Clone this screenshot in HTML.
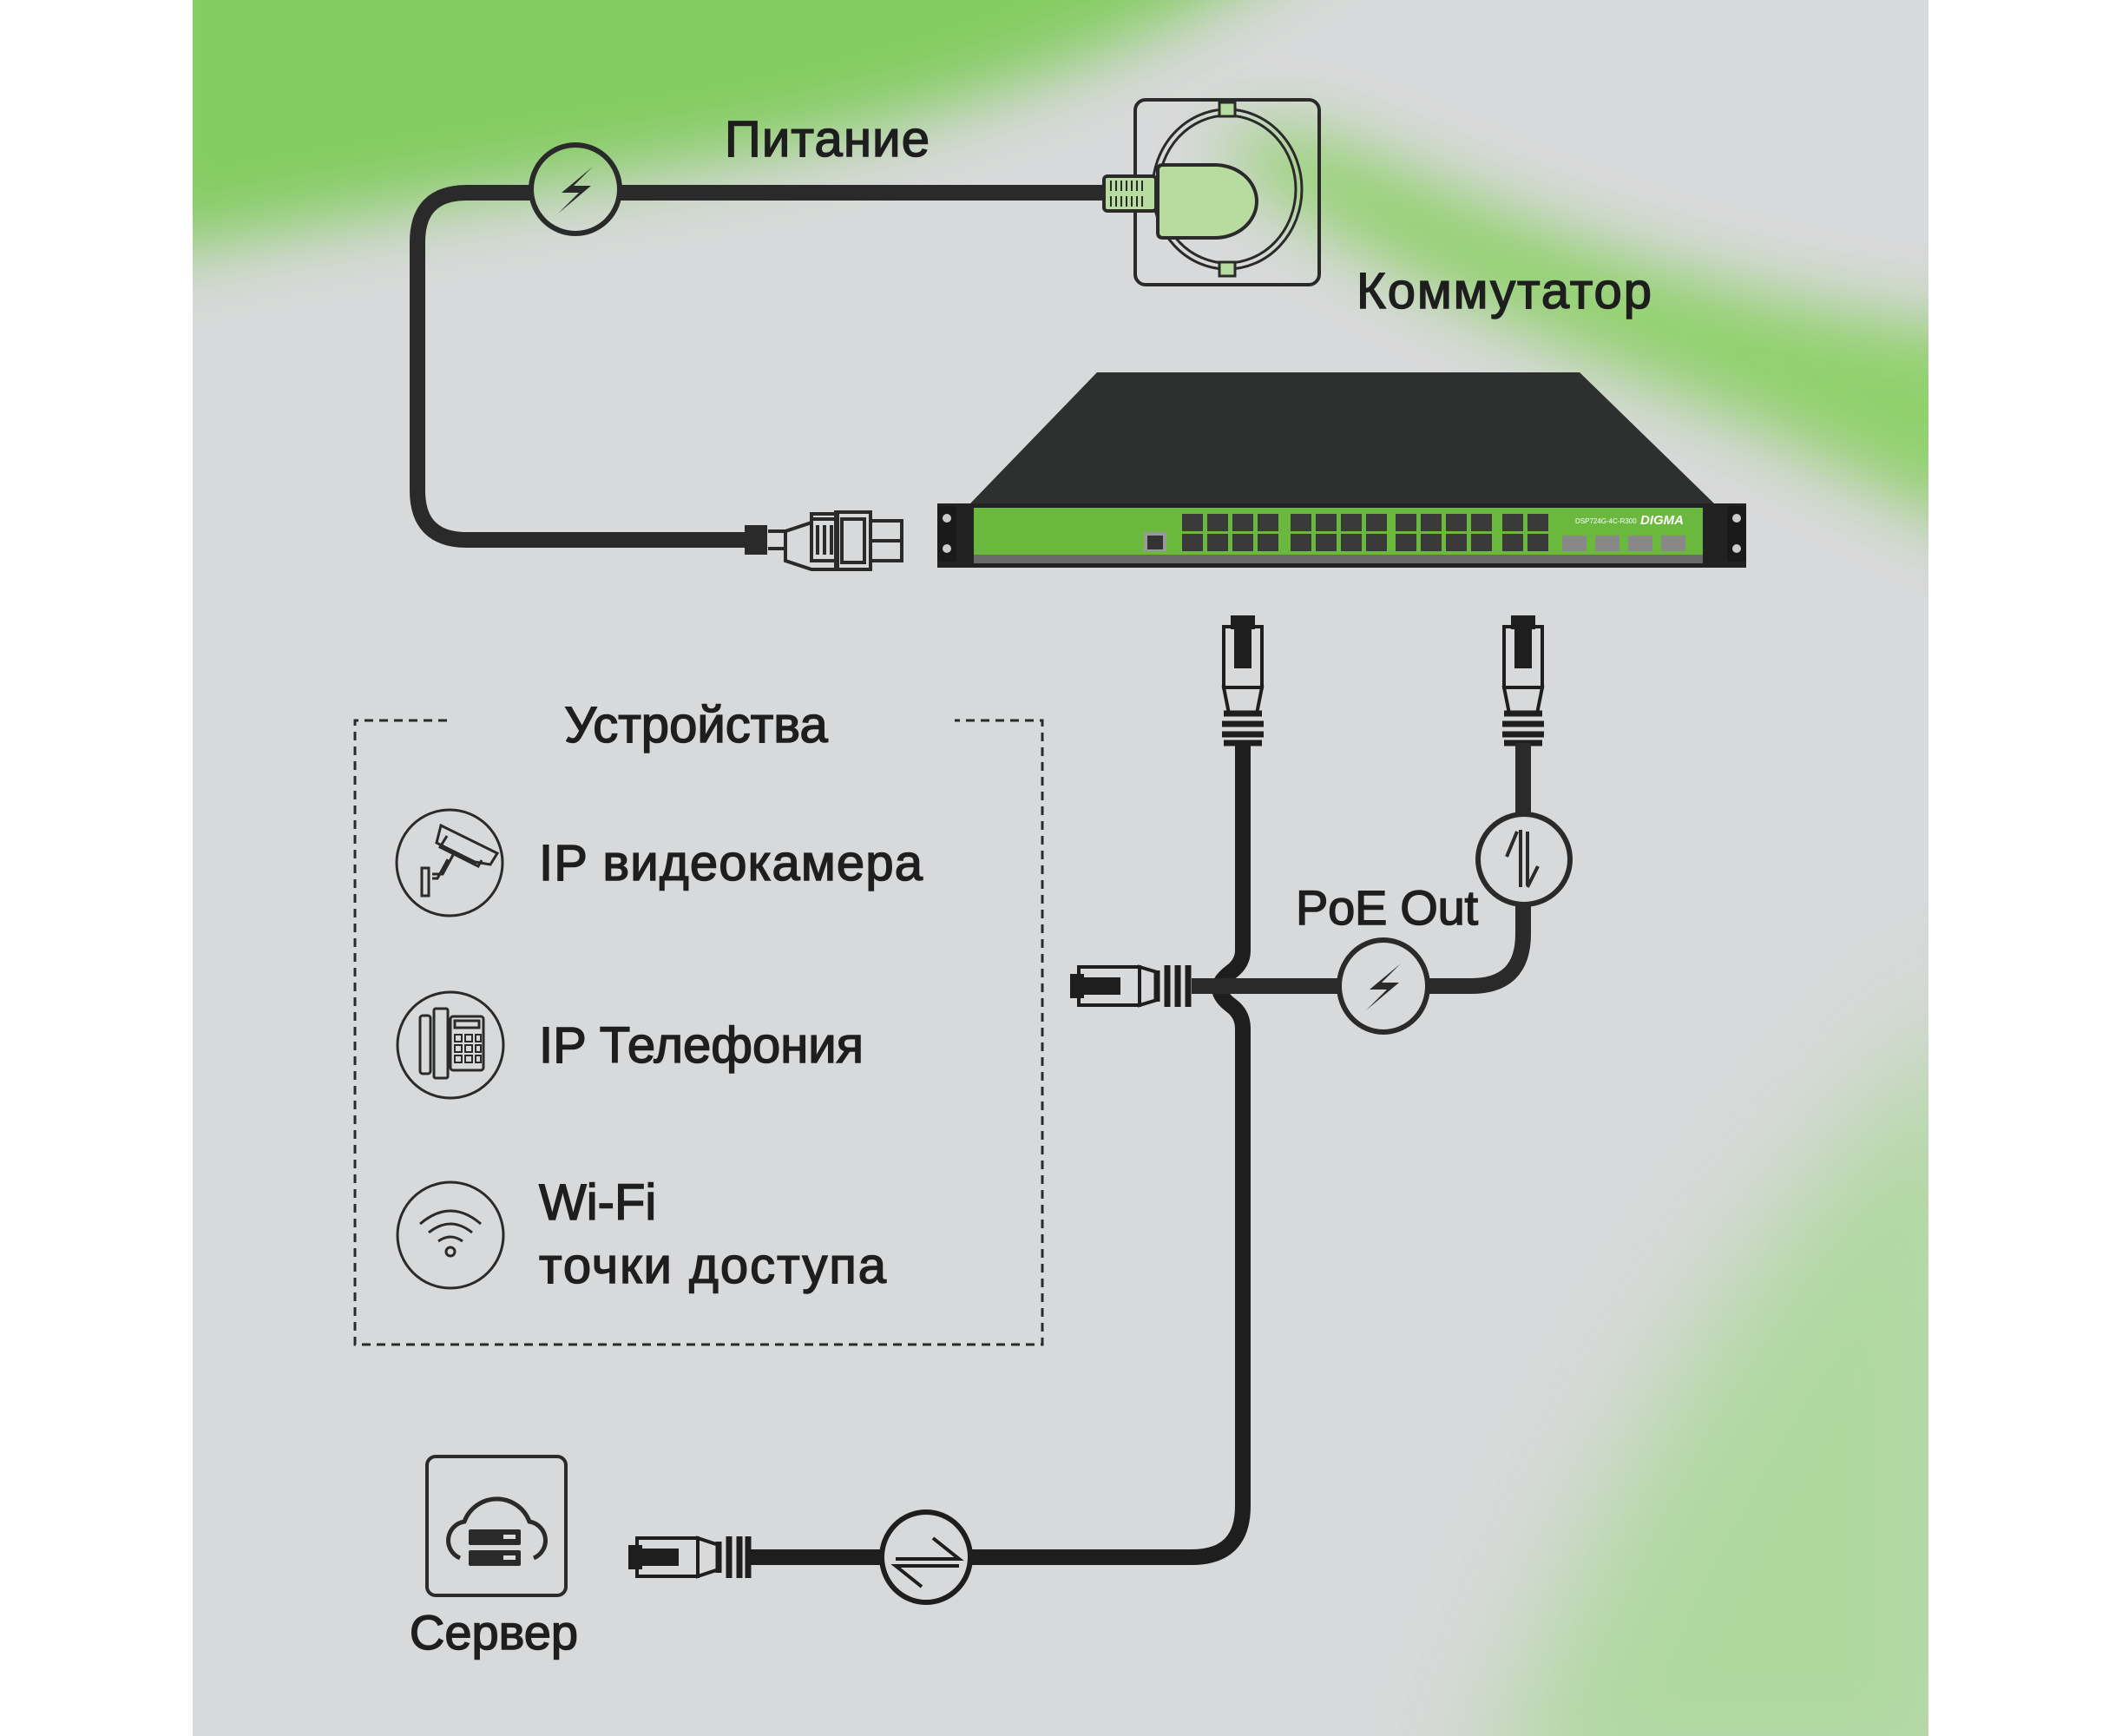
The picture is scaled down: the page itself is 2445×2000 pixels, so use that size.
<!DOCTYPE html>
<html><head><meta charset="utf-8"><style>
html,body{margin:0;padding:0;background:#fff}
svg{display:block}
text{font-family:"Liberation Sans",sans-serif;fill:#1e1e1e}
</style></head><body>
<svg width="2445" height="2000" viewBox="0 0 2445 2000" xmlns="http://www.w3.org/2000/svg">
<defs>
<filter id="b1" x="-50%" y="-50%" width="200%" height="200%"><feGaussianBlur stdDeviation="70"/></filter>
<filter id="b2" x="-50%" y="-50%" width="200%" height="200%"><feGaussianBlur stdDeviation="40"/></filter>
<clipPath id="pan"><rect x="222" y="0" width="2000" height="2000"/></clipPath>
</defs>
<rect x="0" y="0" width="2445" height="2000" fill="#fff"/>
<rect x="222" y="0" width="2000" height="2000" fill="#d8d9da"/>
<g clip-path="url(#pan)">
 <path d="M150,-100 L1550,-100 C1350,60 1050,150 800,190 C580,225 380,250 150,300 Z" fill="#7ccb55" filter="url(#b2)" opacity="0.9"/>
 <path d="M1400,170 C1550,300 1780,390 1950,460 C2100,520 2200,590 2300,620 L2300,380 C2100,370 1850,300 1650,210 C1550,170 1460,120 1400,170Z" fill="#84cf5a" filter="url(#b2)" opacity="0.85"/>
 <path d="M1700,2100 C1820,1750 2000,1400 2300,1150 L2300,2100 Z" fill="#9ad880" filter="url(#b1)" opacity="0.65"/>
</g>

<!-- Power cable -->
<path d="M1272,222 L714,222 M612,222 L538,222 Q481,222 481,279 L481,565 Q481,622 538,622 L860,622" fill="none" stroke="#2a2a2a" stroke-width="18"/>
<circle cx="663" cy="218" r="51" fill="none" stroke="#2a2a2a" stroke-width="6"/>
<polygon points="683,192 647,222 667,222 643,246 681,214 661,214" fill="#2a2a2a"/>
<g fill="none" stroke="#2a2a2a" stroke-width="4">
 <rect x="860" y="607" width="22" height="30" fill="#2a2a2a"/>
 <path d="M885,612 h20 v20 h-20" />
 <path d="M905,612 l30,-10 v-10 h20 l10,0 h0 v64 h-30 l-30,-10z"/>
 <rect x="935" y="598" width="28" height="48"/>
 <rect x="963" y="590" width="40" height="66"/>
 <rect x="970" y="598" width="26" height="50"/>
 <rect x="1003" y="600" width="36" height="23"/>
 <rect x="1003" y="623" width="36" height="23"/>
</g>
<g fill="#2a2a2a"><rect x="940" y="605" width="4" height="34"/><rect x="948" y="605" width="4" height="34"/><rect x="956" y="605" width="4" height="34"/></g>

<!-- Outlet -->
<rect x="1308" y="115" width="212" height="213" rx="12" fill="none" stroke="#2a2a2a" stroke-width="4"/>
<ellipse cx="1414" cy="218" rx="86" ry="92" fill="none" stroke="#2a2a2a" stroke-width="3"/>
<ellipse cx="1414" cy="218" rx="79" ry="85" fill="none" stroke="#2a2a2a" stroke-width="3"/>
<rect x="1405" y="118" width="18" height="16" fill="#b8dca0" stroke="#2a2a2a" stroke-width="3"/>
<rect x="1405" y="302" width="18" height="16" fill="#b8dca0" stroke="#2a2a2a" stroke-width="3"/>
<path d="M1340,190 h60 a48,42 0 0 1 0,84 h-60 q-6,0 -6,-6 v-72 q0,-6 6,-6z" fill="#b8dca0" stroke="#2a2a2a" stroke-width="4"/>
<rect x="1272" y="203" width="60" height="40" rx="4" fill="#b8dca0" stroke="#2a2a2a" stroke-width="4"/>
<g stroke="#2a2a2a" stroke-width="2"><path d="M1280,208 v12 M1286,208 v12 M1292,208 v12 M1298,208 v12 M1304,208 v12 M1310,208 v12 M1316,208 v12 M1280,226 v12 M1286,226 v12 M1292,226 v12 M1298,226 v12 M1304,226 v12 M1310,226 v12 M1316,226 v12"/></g>

<text x="835" y="180" font-size="58" stroke="#1e1e1e" stroke-width="1.5" textLength="236">Питание</text>
<text x="1563" y="355" font-size="58" stroke="#1e1e1e" stroke-width="1.5" textLength="340">Коммутатор</text>

<!-- Switch -->
<polygon points="1264,429 1820,429 1975,580 1118,580" fill="#2e2f2f"/>
<rect x="1080" y="580" width="932" height="74" fill="#222"/>
<rect x="1080" y="583" width="22" height="64" rx="4" fill="#1a1a1a"/>
<rect x="1990" y="583" width="22" height="64" rx="4" fill="#1a1a1a"/>
<circle cx="1091" cy="597" r="5" fill="#ccc"/><circle cx="1091" cy="632" r="5" fill="#ccc"/>
<circle cx="2001" cy="597" r="5" fill="#ccc"/><circle cx="2001" cy="632" r="5" fill="#ccc"/>
<rect x="1122" y="585" width="840" height="54" fill="#6bb83f"/>
<rect x="1122" y="639" width="840" height="10" fill="#6a6a6a"/>
<rect x="1318" y="613" width="26" height="22" fill="#999"/><rect x="1322" y="617" width="18" height="16" fill="#333"/>
<g fill="#3a3a3a">
 <rect x="1362" y="592" width="24" height="20"/><rect x="1391" y="592" width="24" height="20"/><rect x="1420" y="592" width="24" height="20"/><rect x="1449" y="592" width="24" height="20"/>
 <rect x="1362" y="615" width="24" height="20"/><rect x="1391" y="615" width="24" height="20"/><rect x="1420" y="615" width="24" height="20"/><rect x="1449" y="615" width="24" height="20"/>
 <rect x="1487" y="592" width="24" height="20"/><rect x="1516" y="592" width="24" height="20"/><rect x="1545" y="592" width="24" height="20"/><rect x="1574" y="592" width="24" height="20"/>
 <rect x="1487" y="615" width="24" height="20"/><rect x="1516" y="615" width="24" height="20"/><rect x="1545" y="615" width="24" height="20"/><rect x="1574" y="615" width="24" height="20"/>
 <rect x="1608" y="592" width="24" height="20"/><rect x="1637" y="592" width="24" height="20"/><rect x="1666" y="592" width="24" height="20"/><rect x="1695" y="592" width="24" height="20"/>
 <rect x="1608" y="615" width="24" height="20"/><rect x="1637" y="615" width="24" height="20"/><rect x="1666" y="615" width="24" height="20"/><rect x="1695" y="615" width="24" height="20"/>
 <rect x="1731" y="592" width="24" height="20"/><rect x="1760" y="592" width="24" height="20"/>
 <rect x="1731" y="615" width="24" height="20"/><rect x="1760" y="615" width="24" height="20"/>
</g>
<g fill="#888"><rect x="1800" y="617" width="28" height="18"/><rect x="1838" y="617" width="28" height="18"/><rect x="1876" y="617" width="28" height="18"/><rect x="1914" y="617" width="28" height="18"/></g>
<text x="1890" y="604" font-size="15" font-style="italic" font-weight="bold" style="fill:#fff">DIGMA</text>
<text x="1815" y="603" font-size="8" style="fill:#fff">DSP724G-4C-R300</text>

<g id="rjv" fill="none" stroke="#1e1e1e" stroke-width="4">
 <rect x="1420" y="711" width="24" height="12" fill="#1e1e1e"/>
 <rect x="1410" y="722" width="44" height="70"/>
 <rect x="1422" y="722" width="20" height="48" fill="#1e1e1e" stroke="none"/>
 <path d="M1410,792 h44 l-6,30 h-32z"/>
 <path d="M1410,822 h44 M1408,834 h48 M1408,846 h48 M1410,856 h44" stroke-width="7"/>
</g>
<use href="#rjv" x="323" y="0"/>
<path d="M1432,856 L1432,1095 Q1432,1110 1418,1120 Q1405,1130 1405,1138 Q1405,1148 1418,1158 Q1432,1168 1432,1185 L1432,1735 Q1432,1794 1373,1794 L1118,1794" fill="none" stroke="#1e1e1e" stroke-width="18"/>
<path d="M1755,856 L1755,938 M1755,1042 L1755,1076 Q1755,1136 1695,1136 L1645,1136 M1543,1136 L1373,1136" fill="none" stroke="#2a2a2a" stroke-width="18"/>
<ellipse cx="1756" cy="990" rx="53" ry="52" fill="none" stroke="#2a2a2a" stroke-width="6"/>
<path d="M1748,958 L1736,987 M1752,956 L1752,1022 M1760,1020 L1760,958 M1760,1022 L1772,998" stroke="#2a2a2a" stroke-width="4" fill="none"/>
<ellipse cx="1594" cy="1136" rx="51" ry="53" fill="none" stroke="#2a2a2a" stroke-width="6"/>
<polygon points="1614,1110 1578,1140 1598,1140 1574,1164 1612,1132 1592,1132" fill="#2a2a2a"/>
<g fill="none" stroke="#1e1e1e" stroke-width="4">
 <rect x="1235" y="1124" width="12" height="24" fill="#1e1e1e"/>
 <rect x="1243" y="1114" width="70" height="44"/>
 <rect x="1243" y="1126" width="48" height="20" fill="#1e1e1e" stroke="none"/>
 <path d="M1313,1114 l20,6 v32 l-20,6z"/>
 <path d="M1333,1118 v36 M1345,1112 v48 M1357,1112 v48 M1369,1112 v48" stroke-width="7"/>
</g>
<text x="1493" y="1065" font-size="56" stroke="#1e1e1e" stroke-width="1.5" textLength="210">PoE Out</text>

<g fill="none" stroke="#1e1e1e" stroke-width="4">
 <rect x="726" y="1782" width="12" height="24" fill="#1e1e1e"/>
 <rect x="734" y="1772" width="70" height="44"/>
 <rect x="734" y="1784" width="48" height="20" fill="#1e1e1e" stroke="none"/>
 <path d="M804,1772 l24,8 v28 l-24,8z"/>
 <path d="M828,1776 v36 M840,1770 v48 M852,1770 v48 M862,1770 v48" stroke-width="7"/>
</g>
<path d="M862,1794 L1016,1794" stroke="#1e1e1e" stroke-width="18"/>
<ellipse cx="1067" cy="1794" rx="51" ry="52" fill="#d8d9da" stroke="#1e1e1e" stroke-width="6"/>
<path d="M1075,1772 L1105,1796 L1032,1796 M1105,1804 L1032,1804 L1062,1828" stroke="#1e1e1e" stroke-width="4" fill="none"/>

<rect x="492" y="1678" width="160" height="160" rx="10" fill="none" stroke="#2a2a2a" stroke-width="4"/>
<path d="M530,1795 a22,22 0 0 1 5,-42 a40,40 0 0 1 75,0 a22,22 0 0 1 5,42" fill="none" stroke="#2a2a2a" stroke-width="5"/>
<rect x="540" y="1762" width="60" height="18" rx="2" fill="#2a2a2a"/>
<rect x="540" y="1786" width="60" height="18" rx="2" fill="#2a2a2a"/>
<rect x="580" y="1768" width="14" height="5" fill="#ddd"/><rect x="580" y="1792" width="14" height="5" fill="#ddd"/>
<text x="569" y="1900" font-size="56" text-anchor="middle" stroke="#1e1e1e" stroke-width="1.5">Сервер</text>

<path d="M515,830 L409,830 L409,1549 L1201,1549 L1201,830 L1100,830" fill="none" stroke="#2a2a2a" stroke-width="3" stroke-dasharray="10,7"/>
<text x="802" y="855" font-size="58" text-anchor="middle" stroke="#1e1e1e" stroke-width="1.5">Устройства</text>

<ellipse cx="518" cy="994" rx="61" ry="61" fill="none" stroke="#2a2a2a" stroke-width="3"/>
<g fill="none" stroke="#2a2a2a" stroke-width="3">
 <path d="M508,951 l65,32 -8,13 -18,-3 -44,-22z"/>
 <path d="M515,963 l-8,13 44,22 4,-7"/>
 <path d="M522,985 l-12,22 h-12 M516,990 l-12,22 h-6"/>
 <rect x="486" y="1000" width="8" height="32"/>
</g>
<ellipse cx="519" cy="1204" rx="61" ry="61" fill="none" stroke="#2a2a2a" stroke-width="3"/>
<g fill="none" stroke="#2a2a2a" stroke-width="3">
 <rect x="484" y="1170" width="12" height="67" rx="3"/>
 <rect x="500" y="1162" width="16" height="80" rx="2"/>
 <rect x="519" y="1171" width="38" height="62" rx="3"/>
 <rect x="524" y="1176" width="28" height="8"/>
 <path d="M524,1192h8v8h-8z M536,1192h8v8h-8z M548,1192h6v8h-6z M524,1204h8v8h-8z M536,1204h8v8h-8z M548,1204h6v8h-6z M524,1216h8v8h-8z M536,1216h8v8h-8z M548,1216h6v8h-6z" stroke-width="2"/>
</g>
<ellipse cx="519" cy="1423" rx="61" ry="61" fill="none" stroke="#2a2a2a" stroke-width="3"/>
<g fill="none" stroke="#2a2a2a" stroke-width="3">
 <path d="M484,1410 q35,-30 70,0 M494,1420 q25,-20 50,0 M505,1430 q14,-10 28,0"/>
 <circle cx="519" cy="1442" r="5"/>
</g>
<text x="621" y="1014" font-size="58" stroke="#1e1e1e" stroke-width="1.5" textLength="442">IP видеокамера</text>
<text x="621" y="1224" font-size="58" stroke="#1e1e1e" stroke-width="1.5" textLength="374">IP Телефония</text>
<text x="621" y="1405" font-size="58" stroke="#1e1e1e" stroke-width="1.5">Wi-Fi</text>
<text x="621" y="1478" font-size="58" stroke="#1e1e1e" stroke-width="1.5" textLength="400">точки доступа</text>
</svg>
</body></html>
